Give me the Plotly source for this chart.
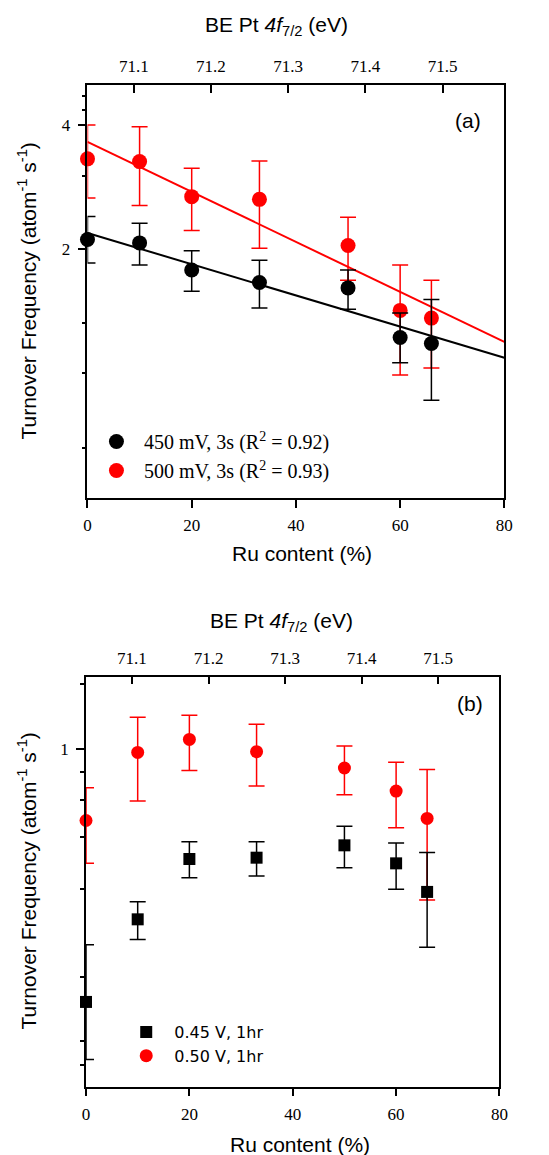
import numpy as np
import plotly.graph_objects as go

W, H = 549, 1155

# Ru content of the alloy series (%)
ru = [0, 10, 20, 33, 50, 60, 66]

# (a) 3 s pulses: turnover frequency and error-bar limits
tof_450 = [2.11, 2.07, 1.78, 1.66, 1.61, 1.22, 1.18]
tof_450_hi = [2.40, 2.31, 1.98, 1.88, 1.78, 1.40, 1.51]
tof_450_lo = [1.85, 1.83, 1.58, 1.44, 1.43, 1.06, 0.86]

tof_500 = [3.31, 3.26, 2.68, 2.64, 2.04, 1.42, 1.36]
tof_500_hi = [4.00, 3.96, 3.14, 3.27, 2.39, 1.83, 1.68]
tof_500_lo = [2.66, 2.55, 2.22, 2.01, 1.68, 0.99, 1.03]

# (b) 1 hr holds
tof_045 = [0.244, 0.387, 0.542, 0.546, 0.585, 0.529, 0.451]
tof_045_hi = [0.336, 0.427, 0.597, 0.597, 0.651, 0.593, 0.562]
tof_045_lo = [0.177, 0.346, 0.488, 0.493, 0.516, 0.458, 0.331]

tof_050 = [0.672, 0.983, 1.057, 0.987, 0.901, 0.792, 0.680]
tof_050_hi = [0.807, 1.196, 1.210, 1.150, 1.018, 0.930, 0.894]
tof_050_lo = [0.529, 0.749, 0.889, 0.815, 0.776, 0.645, 0.431]

# legend labels
label_450 = "450 mV, 3s (R<sup>2</sup> = 0.92)"
label_500 = "500 mV, 3s (R<sup>2</sup> = 0.93)"
label_045 = "0.45 V, 1hr"
label_050 = "0.50 V, 1hr"

# axis ticks
ru_ticks = [0, 20, 40, 60, 80]
be_ticks = [71.1, 71.2, 71.3, 71.4, 71.5]
be_range = [71.04, 71.58]
a_major = [2, 4]
a_minor = [0.66, 1.0, 1.32, 3.0, 4.35, 4.7]
b_major = [1]
b_minor = [0.172, 0.196, 0.281, 0.458, 0.613, 0.753, 0.882, 1.44]

RED = "#ff0000"
BLACK = "#000000"
SERIF = "Liberation Serif"
SANS = "Liberation Sans"


def px_x(p):
    return p / W


def px_y(p):
    return 1 - p / H


def err(y, hi, lo, col):
    y, hi, lo = map(np.asarray, (y, hi, lo))
    return dict(type="data", symmetric=False, array=hi - y, arrayminus=y - lo,
                thickness=1.5, width=8, color=col)


def fit_line(x, y):
    # straight line in log space (exponential fit) across the full Ru range
    slope, icpt = np.polyfit(np.asarray(x, float), np.log10(y), 1)
    xs = np.array([0.0, 80.0])
    return xs, 10 ** (icpt + slope * xs)


fig = go.Figure()

# ---- panel (a) ----
for y, hi, lo, col, name, rank in [
    (tof_500, tof_500_hi, tof_500_lo, RED, label_500, 2),
    (tof_450, tof_450_hi, tof_450_lo, BLACK, label_450, 1),
]:
    xs, ys = fit_line(ru, y)
    fig.add_trace(go.Scatter(x=xs, y=ys, mode="lines", line=dict(color=col, width=2),
                             showlegend=False, xaxis="x", yaxis="y", hoverinfo="skip"))
    fig.add_trace(go.Scatter(x=ru, y=y, mode="markers", name=name, legend="legend",
                             legendgroup=name, legendrank=rank,
                             marker=dict(color=col, size=15, symbol="circle"),
                             error_y=err(y, hi, lo, col), cliponaxis=False,
                             xaxis="x", yaxis="y"))

# carrier for the top binding-energy axis of (a)
fig.add_trace(go.Scatter(x=be_range, y=[1, 1], mode="lines", opacity=0, showlegend=False,
                         hoverinfo="skip", xaxis="x2", yaxis="y"))

# ---- panel (b) ----
for y, hi, lo, col, sym, size, name, rank in [
    (tof_050, tof_050_hi, tof_050_lo, RED, "circle", 13, label_050, 2),
    (tof_045, tof_045_hi, tof_045_lo, BLACK, "square", 12, label_045, 1),
]:
    fig.add_trace(go.Scatter(x=ru, y=y, mode="markers", name=name, legend="legend2",
                             legendgroup=name, legendrank=rank,
                             marker=dict(color=col, size=size, symbol=sym),
                             error_y=err(y, hi, lo, col), cliponaxis=False,
                             xaxis="x3", yaxis="y2"))

fig.add_trace(go.Scatter(x=be_range, y=[1, 1], mode="lines", opacity=0, showlegend=False,
                         hoverinfo="skip", xaxis="x4", yaxis="y2"))

# ---- axes ----
tickfont = dict(family=SERIF, size=17, color=BLACK)
common = dict(showgrid=False, zeroline=False, showline=True, linecolor=BLACK, linewidth=1.5,
              tickcolor=BLACK, tickwidth=1.5, tickfont=tickfont)

dom_a_x = [px_x(85.5), px_x(512.5)]
dom_a_y = [px_y(498), px_y(85)]
dom_b_x = [px_x(84), px_x(507.5)]
dom_b_y = [px_y(1086.7), px_y(676.7)]


def ru_axis(domain, anchor):
    return dict(domain=domain, anchor=anchor, range=[0, 80], tickmode="array",
                tickvals=ru_ticks, ticks="outside", ticklen=8, ticklabelstandoff=3, **common)


def be_axis(over, anchor):
    return dict(overlaying=over, anchor=anchor, side="top", range=be_range, tickmode="array",
                tickvals=be_ticks, ticktext=[f"{v:.1f}" for v in be_ticks],
                ticks="inside", ticklen=8, ticklabelstandoff=4, **common)


def tof_axis(domain, anchor, lo, hi, major, minor):
    return dict(domain=domain, anchor=anchor, type="log",
                range=[np.log10(lo), np.log10(hi)], tickmode="array", tickvals=major,
                ticktext=[str(v) for v in major], ticks="outside", ticklen=8, mirror=True,
                minor=dict(tickvals=minor, ticks="outside", ticklen=4, tickcolor=BLACK,
                           tickwidth=1.5, showgrid=False),
                ticklabelstandoff=4, **common)


fig.update_layout(
    xaxis=ru_axis(dom_a_x, "y"),
    xaxis2=be_axis("x", "y"),
    yaxis=tof_axis(dom_a_y, "x", 0.498, 5.0, a_major, a_minor),
    xaxis3=ru_axis(dom_b_x, "y2"),
    xaxis4=be_axis("x3", "y2"),
    yaxis2=tof_axis(dom_b_y, "x3", 0.152, 1.50, b_major, b_minor),
    legend=dict(x=px_x(87), y=px_y(422), xanchor="left", yanchor="top",
                font=dict(family=SERIF, size=20, color=BLACK), itemwidth=45,
                tracegroupgap=0, bgcolor="rgba(0,0,0,0)"),
    legend2=dict(x=px_x(117), y=px_y(1015), xanchor="left", yanchor="top",
                 font=dict(family="DejaVu Sans", size=16, color=BLACK), itemwidth=46,
                 tracegroupgap=0, bgcolor="rgba(0,0,0,0)"),
    width=W, height=H, margin=dict(l=0, r=0, t=0, b=0),
    paper_bgcolor="white", plot_bgcolor="white",
)

title_font = dict(family=SANS, size=21, color=BLACK)
notes = [
    ("BE Pt <i>4f</i><sub>7/2</sub> (eV)", 279, 26, 0),
    ("Ru content (%)", 305, 553, 0),
    ("Turnover Frequency (atom<sup>-1</sup> s<sup>-1</sup>)", 24, 291, -90),
    ("(a)", 475, 120, 0),
    ("BE Pt <i>4f</i><sub>7/2</sub> (eV)", 284, 622, 0),
    ("Ru content (%)", 303, 1144, 0),
    ("Turnover Frequency (atom<sup>-1</sup> s<sup>-1</sup>)", 24, 881, -90),
    ("(b)", 477, 703, 0),
]
for text, x, y, ang in notes:
    fig.add_annotation(text=text, x=px_x(x), y=px_y(y), xref="paper", yref="paper",
                       showarrow=False, textangle=ang, font=title_font,
                       xanchor="center", yanchor="middle")

fig.write_html("out.html")
